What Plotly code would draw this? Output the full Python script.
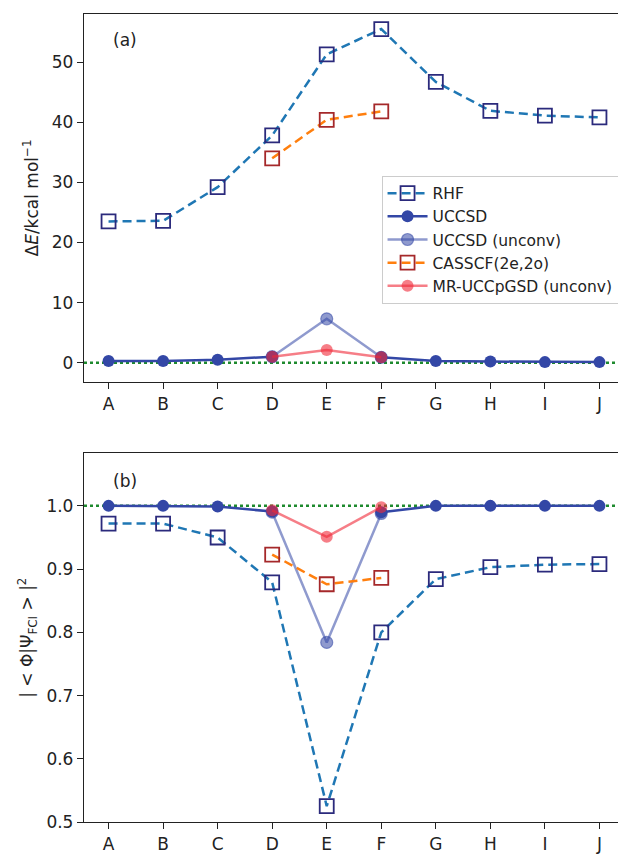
import plotly.graph_objects as go

categories = ["A", "B", "C", "D", "E", "F", "G", "H", "I", "J"]

# Panel (a): energy differences (kcal/mol)
rhf_dE = [23.5, 23.6, 29.2, 37.8, 51.3, 55.5, 46.7, 41.9, 41.1, 40.8]
uccsd_dE = [0.3, 0.3, 0.5, 1.0, None, 0.9, 0.3, 0.2, 0.1, 0.1]
uccsd_unconv_dE = [None, None, None, 1.0, 7.3, 0.9, None, None, None, None]
casscf_dE = [None, None, None, 34.0, 40.4, 41.8, None, None, None, None]
mr_dE = [None, None, None, 1.0, 2.1, 0.9, None, None, None, None]

# Panel (b): overlap with FCI
rhf_ov = [0.972, 0.972, 0.950, 0.879, 0.525, 0.800, 0.884, 0.903, 0.907, 0.908]
uccsd_ov = [1.000, 1.000, 0.999, 0.991, None, 0.990, 1.000, 1.000, 1.000, 1.000]
uccsd_unconv_ov = [None, None, None, 0.990, 0.784, 0.988, None, None, None, None]
casscf_ov = [None, None, None, 0.923, 0.876, 0.886, None, None, None, None]
mr_ov = [None, None, None, 0.993, 0.951, 0.998, None, None, None, None]

FONT = "DejaVu Sans"
RHF_LINE = "#1f77b4"
RHF_EDGE = "#2b2a7c"
CAS_LINE = "#ff7f0e"
CAS_EDGE = "#a5282a"
UCC = "#3347a6"
UCC_UN = "rgba(51,71,166,0.55)"
MR = "rgba(240,40,55,0.6)"
GREEN = "#1e8a2e"

fig = go.Figure()


def add_set(xa, ya, rhf, ucc, uccu, cas, mr, show):
    fig.add_trace(go.Scatter(
        x=categories, y=rhf, name="RHF", xaxis=xa, yaxis=ya, showlegend=show,
        mode="lines+markers",
        line=dict(color=RHF_LINE, width=2.5, dash="9px,5px"),
        marker=dict(symbol="square-open", size=14, color=RHF_EDGE, line=dict(width=1.8, color=RHF_EDGE)),
        legendgroup="rhf"))
    fig.add_trace(go.Scatter(
        x=categories, y=ucc, name="UCCSD", xaxis=xa, yaxis=ya, showlegend=show,
        mode="lines+markers", connectgaps=False,
        line=dict(color=UCC, width=2.5),
        marker=dict(symbol="circle", size=12, color=UCC),
        legendgroup="ucc"))
    fig.add_trace(go.Scatter(
        x=categories, y=uccu, name="UCCSD (unconv)", xaxis=xa, yaxis=ya, showlegend=show,
        mode="lines+markers",
        line=dict(color=UCC_UN, width=2.5),
        marker=dict(symbol="circle", size=12, color=UCC_UN, line=dict(width=1.2, color=UCC_UN)),
        legendgroup="uccu"))
    fig.add_trace(go.Scatter(
        x=categories, y=cas, name="CASSCF(2e,2o)", xaxis=xa, yaxis=ya, showlegend=show,
        mode="lines+markers",
        line=dict(color=CAS_LINE, width=2.5, dash="9px,5px"),
        marker=dict(symbol="square-open", size=14, color=CAS_EDGE, line=dict(width=1.8, color=CAS_EDGE)),
        legendgroup="cas"))
    fig.add_trace(go.Scatter(
        x=categories, y=mr, name="MR-UCCpGSD (unconv)", xaxis=xa, yaxis=ya, showlegend=show,
        mode="lines+markers",
        line=dict(color=MR, width=2.5),
        marker=dict(symbol="circle", size=12, color=MR),
        legendgroup="mr"))


add_set("x", "y", rhf_dE, uccsd_dE, uccsd_unconv_dE, casscf_dE, mr_dE, True)
add_set("x2", "y2", rhf_ov, uccsd_ov, uccsd_unconv_ov, casscf_ov, mr_ov, False)

axis_common = dict(
    showline=True, linecolor="#222", linewidth=1.3, mirror=True,
    ticks="outside", ticklen=6, tickwidth=1.2, tickcolor="#222",
    showgrid=False, zeroline=False,
    tickfont=dict(family=FONT, size=17, color="#222"),
)

# page body adds ~8px offset; figure sized to fit the 626x855 window
fig.update_layout(
    width=618, height=847,
    margin=dict(l=76, r=1, t=6, b=30),
    paper_bgcolor="white", plot_bgcolor="white",
    font=dict(family=FONT, size=17, color="#222"),
    xaxis=dict(domain=[0, 1], anchor="y", type="category", range=[-0.45, 9.45], **axis_common),
    yaxis=dict(domain=[0.5446, 1], anchor="x", range=[-3.2, 58], tickvals=[0, 10, 20, 30, 40, 50],
               title=dict(text="Δ<i>E</i>/kcal mol<sup>−1</sup>", font=dict(family=FONT, size=17), standoff=8),
               **axis_common),
    xaxis2=dict(domain=[0, 1], anchor="y2", type="category", range=[-0.45, 9.45], **axis_common),
    yaxis2=dict(domain=[0, 0.4562], anchor="x2", range=[0.5, 1.083],
                tickvals=[0.5, 0.6, 0.7, 0.8, 0.9, 1.0], ticktext=["0.5", "0.6", "0.7", "0.8", "0.9", "1.0"],
                title=dict(text="| < Φ|Ψ<sub>FCI</sub> > |<sup>2</sup>", font=dict(family=FONT, size=17), standoff=8),
                **axis_common),
    legend=dict(x=0.551, y=0.80, xanchor="left", yanchor="top",
                bgcolor="rgba(255,255,255,0.85)", bordercolor="#cccccc", borderwidth=1,
                font=dict(family=FONT, size=15.5, color="#222"), tracegroupgap=0, itemwidth=40),
    shapes=[
        dict(type="line", xref="x domain", yref="y", x0=0, x1=1, y0=0, y1=0,
             line=dict(color=GREEN, width=2.5, dash="dot"), layer="below"),
        dict(type="line", xref="x2 domain", yref="y2", x0=0, x1=1, y0=1.0, y1=1.0,
             line=dict(color=GREEN, width=2.5, dash="dot"), layer="below"),
    ],
    annotations=[
        dict(text="(a)", xref="x domain", yref="y domain", x=0.075, y=0.93, showarrow=False,
             xanchor="center", yanchor="middle", font=dict(family=FONT, size=17, color="#222")),
        dict(text="(b)", xref="x2 domain", yref="y2 domain", x=0.075, y=0.925, showarrow=False,
             xanchor="center", yanchor="middle", font=dict(family=FONT, size=17, color="#222")),
    ],
)

fig.write_html("out.html")
